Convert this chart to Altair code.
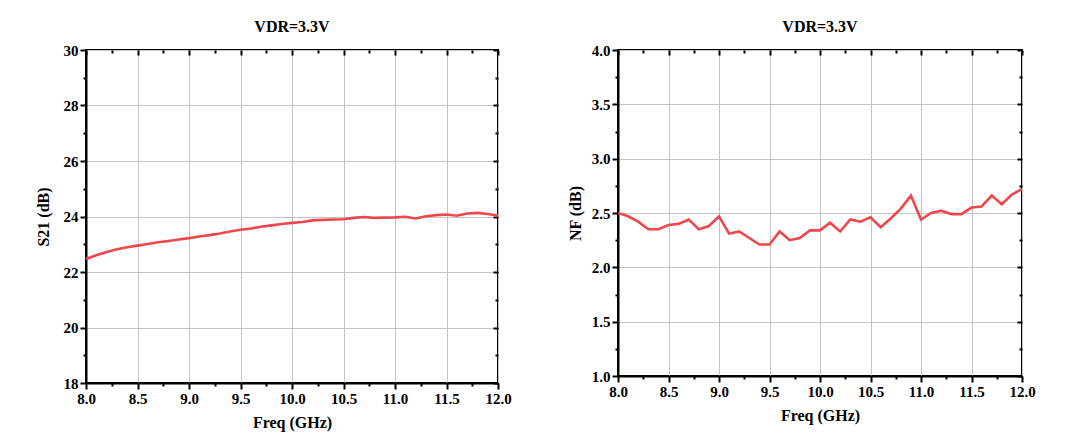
import altair as alt
import pandas as pd

FONT = "Liberation Serif"
RED = "#f0474c"

# ---- data ----
freq = [8.0, 8.1, 8.2, 8.3, 8.4, 8.5, 8.6, 8.7, 8.8, 8.9,
        9.0, 9.1, 9.2, 9.3, 9.4, 9.5, 9.6, 9.7, 9.8, 9.9,
        10.0, 10.1, 10.2, 10.3, 10.4, 10.5, 10.6, 10.7, 10.8, 10.9,
        11.0, 11.1, 11.2, 11.3, 11.4, 11.5, 11.6, 11.7, 11.8, 11.9, 12.0]

s21 = [22.47, 22.60, 22.72, 22.82, 22.89, 22.95, 23.01, 23.07, 23.12, 23.17,
       23.22, 23.28, 23.33, 23.39, 23.46, 23.52, 23.57, 23.63, 23.68, 23.73,
       23.77, 23.80, 23.86, 23.88, 23.89, 23.90, 23.95, 23.98, 23.95, 23.96,
       23.97, 23.99, 23.93, 24.01, 24.05, 24.07, 24.03, 24.11, 24.13, 24.09, 24.03]

nf = [2.50, 2.47, 2.42, 2.35, 2.35, 2.39, 2.40, 2.44, 2.35, 2.38,
      2.47, 2.31, 2.33, 2.27, 2.21, 2.21, 2.33, 2.25, 2.27, 2.34,
      2.34, 2.41, 2.33, 2.44, 2.42, 2.46, 2.37, 2.45, 2.54, 2.66,
      2.44, 2.50, 2.52, 2.49, 2.49, 2.55, 2.56, 2.66, 2.58, 2.67, 2.72]

x_major = [8.0, 8.5, 9.0, 9.5, 10.0, 10.5, 11.0, 11.5, 12.0]
x_minor = [8.25, 8.75, 9.25, 9.75, 10.25, 10.75, 11.25, 11.75]

s21_major = [18, 20, 22, 24, 26, 28, 30]
s21_minor = [19, 21, 23, 25, 27, 29]

nf_major = [1.0, 1.5, 2.0, 2.5, 3.0, 3.5, 4.0]
nf_minor = [1.25, 1.75, 2.25, 2.75, 3.25, 3.75]

title_text = "VDR=3.3V"

df_s21 = pd.DataFrame({"freq": freq, "val": s21})
df_nf = pd.DataFrame({"freq": freq, "val": nf})


def panel(df, ytitle, ydomain, ymaj, ymin, yfmt, w, h, ytitlepad):
    xscale = alt.Scale(domain=[8, 12], nice=False, zero=False)
    yscale = alt.Scale(domain=ydomain, nice=False, zero=False)

    line = alt.Chart(df).mark_line(color=RED, strokeWidth=2.6, clip=True).encode(
        x=alt.X("freq:Q", scale=xscale, axis=alt.Axis(
            orient="bottom", values=x_major, title="Freq (GHz)", format=".1f",
            ticks=True, tickSize=6, grid=True, labelFlush=False,
            labelOverlap=False, titlePadding=8)),
        y=alt.Y("val:Q", scale=yscale, axis=alt.Axis(
            orient="left", values=ymaj, title=ytitle, format=yfmt,
            ticks=True, tickSize=6, grid=True, labelFlush=False,
            labelOverlap=False, titlePadding=ytitlepad)),
    )

    def ticks_layer(xo, yo, xv, yv, size, offset):
        return alt.Chart(df).mark_line(opacity=0).encode(
            x=alt.X("freq:Q", scale=xscale, axis=alt.Axis(
                orient=xo, values=xv, labels=False, domain=False, ticks=True,
                grid=False, tickSize=size, offset=offset, title=None)),
            y=alt.Y("val:Q", scale=yscale, axis=alt.Axis(
                orient=yo, values=yv, labels=False, domain=False, ticks=True,
                grid=False, tickSize=size, offset=offset, title=None)),
        )

    layers = [
        line,
        ticks_layer("bottom", "left", x_minor, ymin, 3, 0),
        ticks_layer("top", "right", x_major, ymaj, 5, -5),
        ticks_layer("top", "right", x_minor, ymin, 3, -3),
    ]
    return alt.layer(*layers).resolve_axis(
        x="independent", y="independent"
    ).properties(
        width=w, height=h,
        title=alt.TitleParams(title_text, font=FONT, fontSize=16, fontWeight="bold",
                              color="black", offset=8, anchor="middle"),
    )


left = panel(df_s21, "S21 (dB)", [18, 30], s21_major, s21_minor, ".0f",
             412, 333, 12)
right = panel(df_nf, "NF (dB)", [1.0, 4.0], nf_major, nf_minor, ".1f",
              404, 326, 8)

chart = alt.hconcat(left, right, spacing=53).properties(
    padding={"left": 26, "top": 10, "right": 5, "bottom": 5},
    background="white",
).configure_view(
    stroke="black", strokeWidth=2
).configure_axis(
    domainColor="black", domainWidth=2,
    tickColor="black", tickWidth=2,
    gridColor="#c4c4c4", gridWidth=1,
    labelFont=FONT, labelFontSize=15, labelFontWeight="bold", labelColor="black",
    labelPadding=2,
    titleFont=FONT, titleFontSize=16, titleFontWeight="bold", titleColor="black",
)

chart.save("out.html", embed_options={"renderer": "svg", "actions": False})
